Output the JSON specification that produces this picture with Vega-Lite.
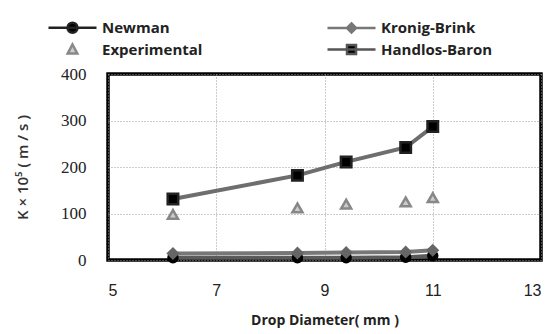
{
  "$schema": "https://vega.github.io/schema/vega-lite/v6.json",
  "width": 433,
  "height": 186,
  "autosize": {"type": "none"},
  "padding": {"left": 108, "top": 74, "right": 13, "bottom": 74},
  "background": "white",
  "data": {
    "values": [
      {"series": "Newman", "d": 6.2, "k": 5},
      {"series": "Newman", "d": 8.5, "k": 5},
      {"series": "Newman", "d": 9.4, "k": 5},
      {"series": "Newman", "d": 10.5, "k": 6},
      {"series": "Newman", "d": 11.0, "k": 9},
      {"series": "Kronig-Brink", "d": 6.2, "k": 14},
      {"series": "Kronig-Brink", "d": 8.5, "k": 15},
      {"series": "Kronig-Brink", "d": 9.4, "k": 16},
      {"series": "Kronig-Brink", "d": 10.5, "k": 17},
      {"series": "Kronig-Brink", "d": 11.0, "k": 21},
      {"series": "Experimental", "d": 6.2, "k": 98},
      {"series": "Experimental", "d": 8.5, "k": 112},
      {"series": "Experimental", "d": 9.4, "k": 120},
      {"series": "Experimental", "d": 10.5, "k": 125},
      {"series": "Experimental", "d": 11.0, "k": 134},
      {"series": "Handlos-Baron", "d": 6.2, "k": 131},
      {"series": "Handlos-Baron", "d": 8.5, "k": 182},
      {"series": "Handlos-Baron", "d": 9.4, "k": 211},
      {"series": "Handlos-Baron", "d": 10.5, "k": 242},
      {"series": "Handlos-Baron", "d": 11.0, "k": 287}
    ]
  },
  "encoding": {
    "x": {
      "field": "d", "type": "quantitative",
      "scale": {"domain": [5, 13], "nice": false, "zero": false},
      "axis": {
        "values": [5, 7, 9, 11, 13], "grid": true, "gridDash": [1, 2], "gridColor": "#999", "gridWidth": 1,
        "domain": false, "ticks": false, "labelPadding": 22,
        "labelFont": "Liberation Sans", "labelFontSize": 16, "labelColor": "#222",
        "title": "Drop Diameter( mm )", "titleFont": "Open Sans", "titleFontSize": 14, "titleFontWeight": "bold",
        "titleColor": "#222", "titlePadding": 15
      }
    },
    "y": {
      "field": "k", "type": "quantitative",
      "scale": {"domain": [0, 400], "nice": false},
      "axis": {
        "values": [0, 100, 200, 300, 400], "grid": true, "gridDash": [1, 2], "gridColor": "#999", "gridWidth": 1,
        "domain": false, "ticks": false, "labelPadding": 22,
        "labelFont": "Liberation Serif", "labelFontSize": 17, "labelColor": "#222",
        "title": "K × 10⁵ ( m / s )", "titleFont": "Open Sans", "titleFontSize": 15, "titleFontWeight": 600,
        "titleColor": "#333", "titlePadding": 30
      }
    }
  },
  "layer": [
    {
      "transform": [{"filter": "datum.series !== 'Experimental'"}],
      "mark": {"type": "line", "strokeWidth": 4},
      "encoding": {
        "color": {
          "field": "series", "type": "nominal", "legend": null,
          "scale": {"domain": ["Newman", "Kronig-Brink", "Handlos-Baron"], "range": ["#5a5a5a", "#777777", "#6e6e6e"]}
        },
        "order": {"field": "d"}
      }
    },
    {
      "mark": {"type": "point", "strokeWidth": 2.5, "opacity": 1},
      "encoding": {
        "shape": {
          "field": "series", "type": "nominal", "legend": null,
          "scale": {"domain": ["Newman", "Kronig-Brink", "Experimental", "Handlos-Baron"], "range": ["circle", "diamond", "triangle-up", "square"]}
        },
        "fill": {
          "field": "series", "type": "nominal", "legend": null,
          "scale": {"domain": ["Newman", "Kronig-Brink", "Experimental", "Handlos-Baron"], "range": ["#000000", "#666666", "#cccccc", "#000000"]}
        },
        "stroke": {
          "field": "series", "type": "nominal", "legend": null,
          "scale": {"domain": ["Newman", "Kronig-Brink", "Experimental", "Handlos-Baron"], "range": ["#000000", "#666666", "#888888", "#222222"]}
        },
        "size": {
          "field": "series", "type": "nominal", "legend": null,
          "scale": {"domain": ["Newman", "Kronig-Brink", "Experimental", "Handlos-Baron"], "range": [80, 110, 120, 160]}
        }
      }
    },
    {
      "transform": [{"filter": "false"}],
      "mark": {"type": "point", "strokeWidth": 2.5, "opacity": 1},
      "encoding": {
        "shape": {
          "field": "series", "type": "nominal", "title": null,
          "scale": {
            "domain": ["Newman", "Kronig-Brink", "Experimental", "Handlos-Baron"],
            "range": [
              "M-2.4,0H2.4M0.5,0A0.5,0.5,0,1,1,-0.5,0A0.5,0.5,0,1,1,0.5,0Z",
              "M-2.4,0H2.4M0,-0.45L0.45,0L0,0.45L-0.45,0Z",
              "M0,-0.5L0.48,0.4L-0.48,0.4Z",
              "M-2.4,0H2.4M-0.45,-0.45H0.45V0.45H-0.45Z"
            ]
          }
        },
        "fill": {
          "field": "series", "type": "nominal", "title": null,
          "scale": {"domain": ["Newman", "Kronig-Brink", "Experimental", "Handlos-Baron"], "range": ["#000000", "#777777", "#cccccc", "#000000"]}
        },
        "stroke": {
          "field": "series", "type": "nominal", "title": null,
          "scale": {"domain": ["Newman", "Kronig-Brink", "Experimental", "Handlos-Baron"], "range": ["#222222", "#777777", "#888888", "#555555"]}
        }
      }
    }
  ],
  "resolve": {"scale": {"shape": "independent", "fill": "independent", "stroke": "independent", "color": "independent", "size": "independent"}},
  "config": {
    "view": {"stroke": "#000", "strokeWidth": 3.5},
    "legend": {
      "orient": "none", "legendX": -47, "legendY": -58, "columns": 2, "direction": "horizontal",
      "columnPadding": 119, "rowPadding": 0, "symbolSize": 400, "symbolStrokeWidth": 2.5,
      "labelFont": "Open Sans", "labelFontSize": 15, "labelFontWeight": "bold", "labelColor": "#222",
      "labelOffset": 18, "symbolOpacity": 1
    }
  }
}
